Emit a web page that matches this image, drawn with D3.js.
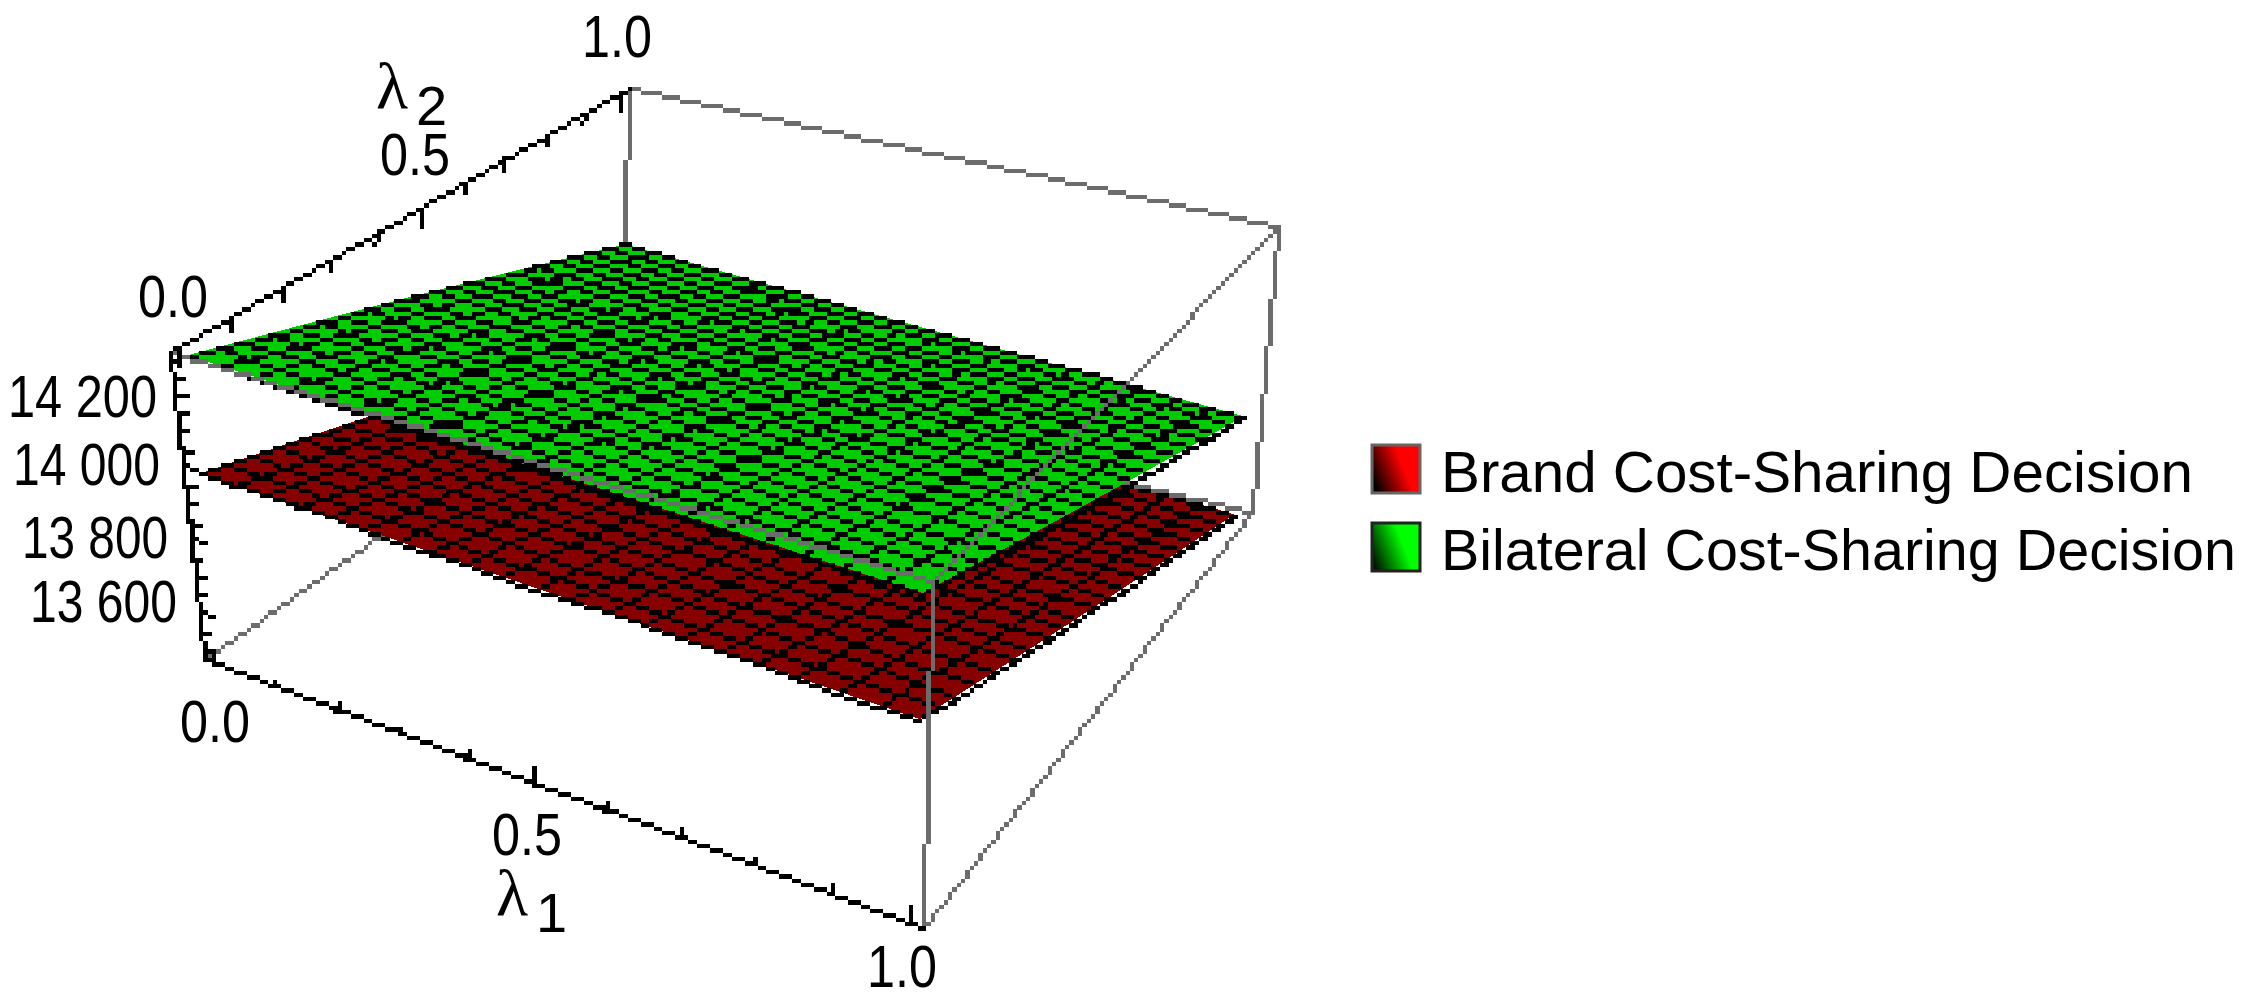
<!DOCTYPE html>
<html><head><meta charset="utf-8">
<script src="https://cdnjs.cloudflare.com/ajax/libs/d3/7.8.5/d3.min.js"></script>
<style>html,body{margin:0;padding:0;background:#fff}svg{display:block}text{font-family:"Liberation Sans",Arial,sans-serif;fill:#000}</style>
</head><body><svg id="c" width="2251" height="1000" viewBox="0 0 2251 1000"></svg>
<script>
// ---- data ----
const lambda1Labels = [0, 0.5, 1];
const lambda2Labels = [0, 0.5, 1];
const lambdaMinorTicks = [0,0.1,0.2,0.3,0.4,0.5,0.6,0.7,0.8,0.9,1];
const zLabels = [14200, 14000, 13800, 13600];
const zMinorTicks = [13500,13550,13600,13650,13700,13750,13800,13850,13900,13950,14000,14050,14100,14150,14200,14250,14300];
// z at [l1,l2] = [0,0],[1,0],[0,1],[1,1]
const brandCorners = [13972, 13943, 13570, 13466];
const bilateralCorners = [14296, 14253, 13842, 13752];
const seriesNames = ["Brand Cost-Sharing Decision", "Bilateral Cost-Sharing Decision"];
const seriesFills = ["#870000", "#00cc00"];
const meshDivisions = 20;

// ---- layout ----
const PX = 2251/520, GRAY = "#6c6c6c";
const svg = d3.select("#c");
const L1PAD = 0.015, L2PAD = 0.015;
const warpA1 = 0.85, warpA2 = 1.21;
const warp = a => t => a*t/(1+(a-1)*t);
const s1 = d3.scaleLinear().domain([-L1PAD,1+L1PAD]).range([0,1]);
const s2 = d3.scaleLinear().domain([-L2PAD,1+L2PAD]).range([0,1]);
const w1 = warp(warpA1), w2 = warp(warpA2);
const sz = d3.scaleLinear().domain([13466,14310]).range([0,1]);
const box = {
  b00:[203,660], b10:[922,925], b01:[620,362], b11:[1249,512],
  t00:[170,352], t10:[930,580], t01:[626,86],  t11:[1278,223]
};
const mix=(a,b,t)=>[a[0]+(b[0]-a[0])*t,a[1]+(b[1]-a[1])*t];
function raw(u,v,k){
  const bot=mix(mix(box.b00,box.b10,u),mix(box.b01,box.b11,u),v);
  const top=mix(mix(box.t00,box.t10,u),mix(box.t01,box.t11,u),v);
  return mix(bot,top,k);
}
const proj=(l1,l2,z)=>raw(w1(s1(l1)),w2(s2(l2)),sz(z));
function pix(a,b){
  const x0=Math.round(a[0]/PX),y0=Math.round(a[1]/PX),x1=Math.round(b[0]/PX),y1=Math.round(b[1]/PX);
  const n=Math.max(Math.abs(x1-x0),Math.abs(y1-y0),1);
  let out="",runX=null,runY=null,runLen=0;
  const flush=()=>{ if(runX!==null) out+=`M${(runX*PX).toFixed(2)} ${(runY*PX).toFixed(2)}h${(runLen*PX).toFixed(2)}v${PX.toFixed(2)}h${(-runLen*PX).toFixed(2)}z`; };
  const pts=[];
  for(let i=0;i<=n;i++) pts.push([Math.round(x0+(x1-x0)*i/n),Math.round(y0+(y1-y0)*i/n)]);
  pts.sort((p,q)=>p[1]-q[1]||p[0]-q[0]);
  for(const [x,y] of pts){
    if(y===runY && x===runX+runLen){runLen++;}
    else if(y===runY && x<runX+runLen){}
    else {flush();runX=x;runY=y;runLen=1;}
  }
  flush();
  return out;
}
function polyPix(pts){let s="";for(let i=1;i<pts.length;i++)s+=pix(pts[i-1],pts[i]);return s;}
const group=svg.append("g").attr("shape-rendering","crispEdges");
function drawPix(d,color){group.append("path").attr("d",d).attr("fill",color);}
function edge(a,b,color){drawPix(pix(a,b),color);}

function surface(c,fill){
  const zAt=(u,v)=>c[0]*(1-u)*(1-v)+c[1]*u*(1-v)+c[2]*(1-u)*v+c[3]*u*v;
  const P=(u,v)=>proj(u,v,zAt(u,v));
  const samp=d3.range(0,1.0001,0.1);
  const ring=[...samp.map(t=>P(t,0)),...samp.map(t=>P(1,t)),...samp.map(t=>P(1-t,1)),...samp.map(t=>P(0,1-t))];
  group.append("polygon").attr("points",ring.map(p=>p.join(",")).join(" ")).attr("fill",fill);
  let d="";
  d3.range(0,meshDivisions+1).forEach(i=>{
    const t=i/meshDivisions;
    d+=polyPix(samp.map(s=>P(s,t)));
    d+=polyPix(samp.map(s=>P(t,s)));
  });
  drawPix(d,"#000");
}
edge(box.t01,box.t11,GRAY);
edge(box.t01,box.b01,GRAY);
edge(box.t11,box.b11,GRAY);
edge(box.b00,box.b01,GRAY);
surface(brandCorners,seriesFills[0]);
edge(box.b01,box.b11,GRAY);
surface(bilateralCorners,seriesFills[1]);
edge(box.t00,box.t10,GRAY);
edge(box.t10,box.t11,GRAY);
edge(box.t10,box.b10,GRAY);
edge(box.b10,box.b11,GRAY);
edge(box.t00,box.t01,"#000");
edge(box.b00,box.t00,"#000");
edge(box.b00,box.b10,"#000");
lambdaMinorTicks.forEach(t=>{
  const u=w1(s1(t)); const p=raw(u,0,0); const big=lambda1Labels.includes(t);
  edge(p,[p[0]+1,p[1]-(big?16:7)],"#000");
  const v=w2(s2(t)); const q=raw(0,v,1);
  edge(q,[q[0]-1,q[1]+(lambda2Labels.includes(t)?17:10)],"#000");
});
zMinorTicks.forEach(z=>{
  const p=raw(0,0,sz(z)); const big=zLabels.includes(z);
  edge(p,[p[0]+(big?14:9),p[1]+2],"#000");
});
function label(txt,x,y,w,size){
  svg.append("text").attr("x",x).attr("y",y).attr("font-size",size).attr("textLength",w)
   .attr("lengthAdjust","spacingAndGlyphs").text(txt);
}
const fmt=d=>d.toFixed(1);
const lam2Pos=[[138,317],[380,175],[582,57]], lam1Pos=[[180,742],[492,855],[867,987]];
lambda2Labels.forEach((d,i)=>label(fmt(d),lam2Pos[i][0],lam2Pos[i][1],70,60));
lambda1Labels.forEach((d,i)=>label(fmt(d),lam1Pos[i][0],lam1Pos[i][1],70,60));
const zPos=[[8,417,149],[13,485,147],[22,558,146],[30,622,147]];
zLabels.forEach((d,i)=>label(d3.format(",")(d).replace(","," "),zPos[i][0],zPos[i][1],zPos[i][2],60));
function lam(x,y,sub,dx,dy){
  const t=svg.append("text").attr("x",x).attr("y",y).attr("font-size",66).style("font-family","'Liberation Serif',serif");
  t.append("tspan").text("\u03bb");
  t.append("tspan").attr("dx",dx).attr("dy",dy).attr("font-size",56).style("font-family","'Liberation Sans',sans-serif").text(sub);
}
lam(376,108,"2",8,17);
lam(496,915,"1",8,17);
const defs=svg.append("defs");
[["gr","#000000","#ff0000"],["gg","#001a00","#00ff00"]].forEach(([id,a,b])=>{
  const g=defs.append("linearGradient").attr("id",id).attr("x1","0").attr("y1","0.7").attr("x2","1").attr("y2","0.3");
  g.append("stop").attr("offset","0").attr("stop-color",a);
  g.append("stop").attr("offset","0.65").attr("stop-color",b);
});
const legY=[445,523], legBase=[492,570], legW=[752,795];
seriesNames.forEach((n,i)=>{
  svg.append("rect").attr("x",1372).attr("y",legY[i]).attr("width",48).attr("height",48)
    .attr("fill",`url(#${i?"gg":"gr"})`).attr("stroke",i?"#222":"#666").attr("stroke-width",3);
  label(n,1441,legBase[i],legW[i],58);
});
</script></body></html>
